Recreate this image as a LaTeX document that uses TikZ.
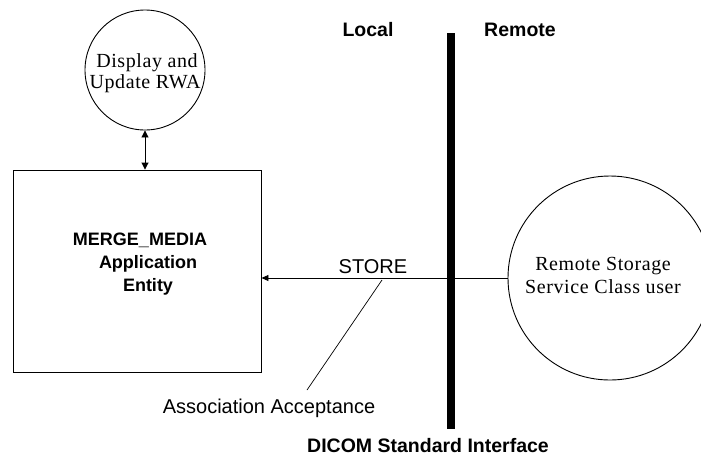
\documentclass[tikz,border=0pt]{standalone}
\usepackage{fontspec}
\setmainfont{Liberation Serif}
\setsansfont{Liberation Sans}
\usetikzlibrary{arrows.meta}
\begin{document}
\begin{tikzpicture}[x=1pt,y=-1pt,
  thin line/.style={line width=0.9pt},
  serifText/.style={font=\fontsize{20}{22}\selectfont\rmfamily\addfontfeature{LetterSpace=3}, inner sep=0pt, anchor=base},
  boldText/.style={font=\fontsize{18}{20}\selectfont\sffamily\bfseries, inner sep=0pt, anchor=base},
  headText/.style={font=\fontsize{19.5}{22}\selectfont\sffamily\bfseries, inner sep=0pt, anchor=base},
  plainText/.style={font=\fontsize{20}{22}\selectfont\sffamily, inner sep=0pt, anchor=base}
]
\useasboundingbox (0,0) rectangle (701,456);
\clip (0,0) rectangle (701,456);
\fill[white] (0,0) rectangle (701,456);

% Display circle
\node[circle, draw, thin line, minimum size=120pt, inner sep=0pt] (disp) at (145,70) {};
\node[serifText] (disp1) at (147,67) {Display and};
\node[serifText] (disp2) at (145,88) {Update RWA};

% Box
\node[draw, thin line, minimum width=248pt, minimum height=202pt, inner sep=0pt] (box) at (137,271) {};
\node[boldText] (bt1) at (140,245) {MERGE\_MEDIA};
\node[boldText] (bt2) at (148,268) {Application};
\node[boldText] (bt3) at (148,291) {Entity};

% Remote circle
\node[circle, draw, thin line, minimum size=204pt, inner sep=0pt] (rem) at (610,278) {};
\node[serifText] (rem1) at (603,270) {Remote Storage};
\node[serifText] (rem2) at (603,293) {Service Class user};

% Interface bar
\coordinate (barTop) at (451,33);
\coordinate (barBot) at (451,429);
\draw[line width=8pt] (barTop) -- (barBot);

% Connectors
\draw[thin line, {Triangle[length=7pt,width=7pt]}-{Triangle[length=7pt,width=7pt]}] (disp.south) -- (disp.south |- box.north);
\draw[thin line, -{Triangle[length=7pt,width=6pt]}] (rem.west) -- (box.east |- rem.west);

% Labels
\node[plainText] (store) at (373,273) {STORE};
\coordinate (leadA) at (382,280);
\coordinate (leadB) at (307,390);
\draw[line width=0.7pt] (leadA) -- (leadB);
\node[plainText] (assoc) at (269,413) {Association Acceptance};

\node[headText] (local) at (368,36) {Local};
\node[headText] (remote) at (520,36) {Remote};
\node[headText] (dicom) at (428,452) {DICOM Standard Interface};
\end{tikzpicture}
\end{document}
